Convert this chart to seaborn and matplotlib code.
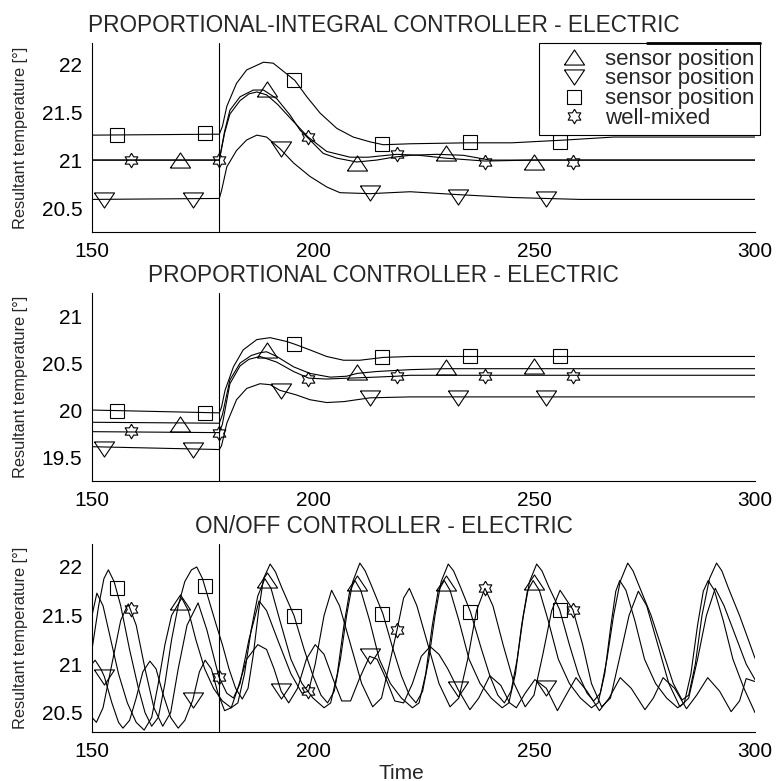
import numpy as np
import matplotlib
matplotlib.use('Agg')
import matplotlib.pyplot as plt
from matplotlib.lines import Line2D
import seaborn as sns

# ---------------- data ----------------
STEP_TIME = 178.8
x_ticks = [150, 200, 250, 300]
legend_labels = ['sensor position', 'sensor position', 'sensor position', 'well-mixed']

# marker times (same sampling in every panel)
up_mark_t = [170, 189.5, 210, 230, 250]
down_mark_t = [152.8, 172.8, 192.8, 212.8, 232.8, 252.8]
square_mark_t = [155.6, 175.6, 195.7, 215.7, 235.6, 255.8]
star_mark_t = [158.8, 178.8, 198.9, 218.9, 238.9, 258.8]

# --- PI controller ---
pi_up_t = [150, 178.8, 180.0, 181.2, 183.5, 186.5, 188.8, 191.8, 194.8, 197.1, 199.3, 202.3,
           205.4, 209.9, 214.4, 218.2, 222, 228, 234, 240, 260, 300]
pi_up_v = [21.0, 21.0, 21.3, 21.52, 21.66, 21.73, 21.73, 21.64, 21.47, 21.31, 21.21, 21.07,
           21.02, 20.98, 21.0, 21.03, 21.05, 21.06, 21.05, 21.0, 21.0, 21.0]
pi_star_t = [150, 178.8, 180.0, 181.2, 183.5, 185.5, 187.3, 189.5, 192, 195, 198.9, 203.1,
             208.4, 212.5, 218.9, 224, 230, 238.9, 250, 300]
pi_star_v = [21.0, 21.0, 21.28, 21.48, 21.62, 21.69, 21.71, 21.68, 21.58, 21.43, 21.24, 21.09,
             21.03, 21.03, 21.06, 21.05, 21.02, 20.99, 21.0, 21.0]
pi_square_t = [150, 178.8, 179.5, 180.5, 182.7, 185, 188.8, 191, 194, 195.9, 198.6, 201.6,
               205.4, 209.1, 212.9, 215.9, 222, 235, 245, 257.4, 268, 300]
pi_square_v = [21.26, 21.27, 21.35, 21.56, 21.8, 21.94, 22.02, 22.01, 21.9, 21.83, 21.66, 21.49,
               21.33, 21.24, 21.19, 21.16, 21.17, 21.18, 21.18, 21.21, 21.24, 21.24]
pi_down_t = [150, 178.8, 179.3, 180.5, 182.7, 185, 187.3, 189.5, 192.5, 195.6, 199.3, 203.1,
             206.1, 212.9, 222, 232.8, 245, 260.4, 300]
pi_down_v = [20.59, 20.6, 20.68, 20.93, 21.10, 21.21, 21.26, 21.24, 21.12, 20.97, 20.83, 20.72,
             20.66, 20.65, 20.67, 20.64, 20.61, 20.59, 20.59]
pi_up_mark = [21.0, 21.74, 20.97, 21.07, 20.98]
pi_down_mark = [20.58, 20.58, 21.12, 20.66, 20.61, 20.59]
pi_square_mark = [21.26, 21.28, 21.83, 21.17, 21.19, 21.19]
pi_star_mark = [21.0, 21.0, 21.24, 21.06, 20.98, 20.98]

# --- P controller ---
p_up_t = [150, 178.8, 179.5, 181.2, 183.5, 186, 188, 189.5, 191.8, 195.6, 199.3, 203.9,
          207.6, 210, 214.4, 222, 230, 300]
p_up_v = [19.87, 19.86, 19.95, 20.32, 20.5, 20.58, 20.61, 20.62, 20.57, 20.46, 20.39, 20.35,
          20.36, 20.39, 20.41, 20.43, 20.44, 20.44]
p_star_t = [150, 178.8, 179.5, 181.2, 183.5, 185.5, 188, 191.8, 195.6, 199, 203, 208.4,
            214, 218.9, 222, 300]
p_star_v = [19.77, 19.76, 19.85, 20.28, 20.47, 20.54, 20.57, 20.51, 20.41, 20.34, 20.33, 20.34,
            20.35, 20.36, 20.37, 20.37]
p_square_t = [150, 178.8, 179.3, 180.1, 182, 184.2, 187.3, 190.3, 194, 195.9, 199.3, 203.1,
              206.9, 210.6, 215.9, 222, 300]
p_square_v = [20.0, 19.97, 20.03, 20.21, 20.46, 20.64, 20.75, 20.77, 20.73, 20.70, 20.64, 20.57,
              20.53, 20.53, 20.56, 20.57, 20.57]
p_down_t = [150, 178.8, 179.3, 180.5, 182.7, 185, 188, 190.3, 192.5, 196.3, 199.3, 203.1,
            207, 212.9, 222, 300]
p_down_v = [19.61, 19.58, 19.62, 19.86, 20.11, 20.23, 20.28, 20.27, 20.21, 20.16, 20.11, 20.08,
            20.09, 20.13, 20.14, 20.14]
p_up_mark = [19.85, 20.64, 20.40, 20.46, 20.47]
p_down_mark = [19.59, 19.58, 20.20, 20.13, 20.13, 20.13]
p_square_mark = [19.99, 19.97, 20.70, 20.56, 20.57, 20.57]
p_star_mark = [19.78, 19.76, 20.33, 20.36, 20.36, 20.36]

# --- ON/OFF controller ---
oo_square_t = [150, 151.5, 152.7, 153.7, 155, 156.5, 158.5, 160.5, 162, 163.5, 165, 166.5,
               168, 169.5, 171, 172.5, 173.7, 175, 176.5, 178, 179.5, 181, 182.5, 184,
               185.3, 186.5, 187.7, 188.8, 190.3, 191.5, 193, 195.7, 198, 200, 201.8, 203.3,
               204.8, 206.2, 207.6, 209, 210.6, 211.8, 213.3, 215.8, 218, 220, 221.8, 223.3,
               224.8, 226.2, 227.6, 229, 230.6, 231.8, 233.3, 235.6, 238, 240, 241.8, 243.3,
               244.8, 246.2, 247.6, 249, 250.6, 251.8, 253.3, 255.8, 258, 260, 262, 263.5,
               265, 266.5, 268, 269.5, 271.2, 272.4, 274, 276.5, 279, 281.5, 283.5, 285,
               286.5, 288, 289.7, 291.3, 292.5, 294, 296.5, 298.5, 300]
oo_square_v = [21.15, 21.6, 21.88, 21.97, 21.85, 21.6, 21.15, 20.75, 20.5, 20.36, 20.45, 20.8,
               21.25, 21.6, 21.85, 21.97, 22.0, 21.88, 21.65, 21.42, 21.2, 20.95, 20.75, 20.64,
               20.75, 21.1, 21.55, 21.88, 22.03, 21.95, 21.78, 21.5, 21.15, 20.88, 20.68, 20.6,
               20.72, 21.05, 21.5, 21.85, 22.04, 21.96, 21.8, 21.52, 21.17, 20.88, 20.68, 20.6,
               20.72, 21.05, 21.5, 21.85, 22.03, 21.96, 21.8, 21.54, 21.17, 20.88, 20.68, 20.6,
               20.72, 21.05, 21.5, 21.85, 22.03, 21.96, 21.8, 21.56, 21.2, 20.9, 20.7, 20.62,
               20.7, 21.05, 21.5, 21.85, 22.04, 21.96, 21.78, 21.5, 21.15, 20.8, 20.63, 20.68,
               21.0, 21.5, 21.88, 22.04, 21.96, 21.78, 21.5, 21.25, 21.06]
oo_up_t = [150, 151.1, 152.5, 154, 156, 158, 160, 161.8, 163.5, 165, 166.5, 168, 170.3, 171.8,
           173.5, 175.5, 177.5, 179.5, 181.5, 183, 184.5, 186, 187.5, 189.1, 190.5, 192.5,
           195, 197.5, 200, 202.5, 204, 205.5, 207, 208.3, 209.5, 210.8, 212.8, 215, 217.5,
           220, 222.5, 224, 225.5, 227, 228.3, 229.7, 231, 233, 235.3, 237.8, 240.3, 242.8,
           244.3, 245.8, 247.2, 248.5, 249.8, 251.2, 253.2, 255.5, 258, 260.5, 263, 264.5,
           266, 267.4, 268.5, 269.4, 270.8, 272.8, 275, 277.5, 280, 282.5, 284, 285.5, 287,
           288.3, 289.4, 290.8, 292.8, 295, 297.5, 300]
oo_up_v = [21.5, 21.73, 21.6, 21.3, 20.9, 20.6, 20.4, 20.32, 20.45, 20.8, 21.2, 21.5, 21.68,
           21.55, 21.25, 20.95, 20.75, 20.62, 20.55, 20.6, 20.9, 21.35, 21.7, 21.88, 21.78,
           21.45, 21.05, 20.8, 20.65, 20.55, 20.6, 20.9, 21.4, 21.75, 21.86, 21.76, 21.45,
           21.05, 20.8, 20.65, 20.55, 20.6, 20.9, 21.4, 21.75, 21.86, 21.76, 21.45, 21.05,
           20.8, 20.65, 20.55, 20.6, 20.9, 21.4, 21.75, 21.86, 21.76, 21.45, 21.05, 20.8,
           20.65, 20.55, 20.6, 20.9, 21.4, 21.75, 21.86, 21.76, 21.45, 21.05, 20.8, 20.65,
           20.55, 20.6, 20.9, 21.4, 21.75, 21.86, 21.76, 21.45, 21.05, 20.75, 20.5]
oo_star_t = [150, 151, 152.5, 154.5, 156.5, 158.2, 160, 162, 164, 166, 167.8, 169.5, 171.5,
             174, 176, 178.7, 180.5, 182, 183.5, 185.5, 187.8, 189.5, 192, 195, 197.5, 199,
             200.5, 202.5, 204.2, 206, 208.5, 211, 213.5, 215.5, 217.3, 219, 220.5, 221.8,
             223.5, 226, 228.5, 231, 233, 235, 237, 238.9, 240.7, 243, 245.5, 248, 250, 252,
             254, 255.9, 258.8, 261, 263, 265.3, 267.3, 269.3, 271.5, 273.6, 275.5, 278,
             280.5, 283, 285, 287, 289, 291, 293, 295.5, 298, 300]
oo_star_v = [20.45, 20.4, 20.55, 21.0, 21.45, 21.62, 21.4, 20.95, 20.55, 20.36, 20.5, 20.95,
             21.4, 21.63, 21.35, 20.87, 20.7, 20.65, 20.8, 21.25, 21.65, 21.55, 21.25, 20.9,
             20.7, 20.72, 21.0, 21.5, 21.76, 21.6, 21.2, 20.8, 20.56, 20.65, 21.0, 21.35,
             21.68, 21.78, 21.6, 21.2, 20.8, 20.56, 20.65, 21.05, 21.55, 21.78, 21.6, 21.2,
             20.8, 20.56, 20.68, 21.1, 21.55, 21.76, 21.56, 21.2, 20.8, 20.56, 20.65, 21.05,
             21.5, 21.75, 21.6, 21.2, 20.8, 20.56, 20.65, 21.05, 21.5, 21.78, 21.6, 21.3,
             21.0, 20.84]
oo_down_t = [150, 150.7, 152, 152.8, 154.5, 156, 157, 158.5, 160, 161.5, 163.1, 164.5, 166,
             167.8, 169.5, 171, 172.8, 174.3, 175.6, 177, 178.5, 180, 181.5, 183, 185, 187.5,
             189.5, 191.2, 192.8, 194.5, 196.5, 198.5, 200.5, 202.5, 204.5, 206.5, 208.5,
             210.5, 212.8, 214.5, 216.5, 218.5, 220.5, 222.5, 224.5, 226.5, 228.5, 230.5,
             232.8, 235.5, 237.5, 240, 242.5, 244.5, 246, 248, 250.2, 252.8, 255.3, 257.5,
             259.5, 262, 264.8, 267, 269.5, 272, 275.1, 277, 279.2, 281.8, 284.5, 286.8,
             289.3, 292, 294.6, 296.5, 298, 300]
oo_down_v = [21.0, 21.04, 20.95, 20.87, 20.6, 20.4, 20.34, 20.42, 20.65, 20.92, 21.03, 20.95,
             20.7, 20.45, 20.34, 20.42, 20.63, 20.92, 21.04, 20.95, 20.7, 20.52, 20.55, 20.75,
             21.05, 21.2, 21.15, 20.95, 20.72, 20.6, 20.75, 21.05, 21.2, 21.1, 20.85, 20.62,
             20.62, 20.85, 21.08, 21.05, 20.85, 20.62, 20.6, 20.8, 21.08, 21.18, 21.1, 20.95,
             20.74, 20.53, 20.65, 20.88, 20.78, 20.6, 20.55, 20.7, 20.84, 20.75, 20.52, 20.7,
             20.86, 20.72, 20.52, 20.65, 20.86, 20.75, 20.53, 20.65, 20.86, 20.75, 20.54,
             20.68, 20.86, 20.72, 20.51, 20.62, 20.85, 20.82]
oo_up_mark = [21.64, 21.87, 21.83, 21.83, 21.85]
oo_down_mark = [20.87, 20.63, 20.72, 21.08, 20.74, 20.75]
oo_square_mark = [21.78, 21.80, 21.50, 21.52, 21.54, 21.56]
oo_star_mark = [21.57, 20.87, 20.72, 21.35, 21.78, 21.56]

# ---------------- marker shapes (MATLAB-like) ----------------
UP_TRI = [(-1, -0.75), (1, -0.75), (0, 0.75), (-1, -0.75)]
DOWN_TRI = [(-1, 0.75), (1, 0.75), (0, -0.75), (-1, 0.75)]
ang = np.deg2rad(90 + 30 * np.arange(13))
rad = np.where(np.arange(13) % 2 == 0, 1.0, 1 / np.sqrt(3))
HEXAGRAM = list(zip(rad * np.cos(ang), rad * np.sin(ang)))

MARK_STYLE = {
    'up': dict(marker=UP_TRI, ms=14.5),
    'down': dict(marker=DOWN_TRI, ms=14.5),
    'square': dict(marker='s', ms=10),
    'star': dict(marker=HEXAGRAM, ms=10.5),
}

sns.set_style('white')
plt.rcParams['font.family'] = ['Liberation Sans', 'DejaVu Sans']


def draw_panel(ax, title, lines, marks, ylim, yticks):
    for t, v in lines:
        sns.lineplot(x=t, y=v, ax=ax, color='black', linewidth=0.8, errorbar=None)
    for kind, t, v in marks:
        ax.plot(t, v, linestyle='none', mfc='none', mec='black', mew=0.8, **MARK_STYLE[kind])
    ax.axvline(STEP_TIME, color='black', linewidth=0.8)
    ax.set_xlim(150, 300)
    ax.set_ylim(*ylim)
    ax.set_xticks(x_ticks)
    ax.set_xticklabels([str(x) for x in x_ticks])
    ax.set_yticks(yticks)
    ax.set_yticklabels([f'{y:g}' for y in yticks])
    ax.tick_params(direction='in', length=4, width=0.8, labelsize=15, pad=7, colors='black')
    for side in ['top', 'right']:
        ax.spines[side].set_visible(False)
    for side in ['left', 'bottom']:
        ax.spines[side].set_color('black')
        ax.spines[side].set_linewidth(0.8)
    ax.set_title(title, fontsize=16.3, x=0.44, pad=8)
    ax.set_ylabel('Resultant temperature [°]', fontsize=11.8)
    ax.yaxis.set_label_coords(-0.097, 0.5)
    ax.set_xlabel('')


fig = plt.figure(figsize=(7.77, 7.81), dpi=100)
ax_pi = fig.add_axes([0.1184, 0.7029, 0.8533, 0.2420])
ax_p = fig.add_axes([0.1184, 0.3841, 0.8533, 0.2407])
ax_oo = fig.add_axes([0.1184, 0.0627, 0.8533, 0.2407])

draw_panel(ax_pi, 'PROPORTIONAL-INTEGRAL CONTROLLER - ELECTRIC',
           [(pi_up_t, pi_up_v), (pi_down_t, pi_down_v), (pi_square_t, pi_square_v), (pi_star_t, pi_star_v)],
           [('up', up_mark_t, pi_up_mark), ('down', down_mark_t, pi_down_mark),
            ('square', square_mark_t, pi_square_mark), ('star', star_mark_t, pi_star_mark)],
           (20.25, 22.22), [20.5, 21, 21.5, 22])
draw_panel(ax_p, 'PROPORTIONAL CONTROLLER - ELECTRIC',
           [(p_up_t, p_up_v), (p_down_t, p_down_v), (p_square_t, p_square_v), (p_star_t, p_star_v)],
           [('up', up_mark_t, p_up_mark), ('down', down_mark_t, p_down_mark),
            ('square', square_mark_t, p_square_mark), ('star', star_mark_t, p_star_mark)],
           (19.245, 21.245), [19.5, 20, 20.5, 21])
draw_panel(ax_oo, 'ON/OFF CONTROLLER - ELECTRIC',
           [(oo_up_t, oo_up_v), (oo_down_t, oo_down_v), (oo_square_t, oo_square_v), (oo_star_t, oo_star_v)],
           [('up', up_mark_t, oo_up_mark), ('down', down_mark_t, oo_down_mark),
            ('square', square_mark_t, oo_square_mark), ('star', star_mark_t, oo_star_mark)],
           (20.30, 22.236), [20.5, 21, 21.5, 22])
ax_oo.set_xlabel('Time', fontsize=15, x=0.466, labelpad=2)

# legend: markers only, square frame
handles = [Line2D([], [], linestyle='none', mfc='none', mec='black', mew=0.8, **MARK_STYLE[k])
           for k in ['up', 'down', 'square', 'star']]
leg = ax_pi.legend(handles, legend_labels, loc='upper right', bbox_to_anchor=(1.0075, 1.0),
                   fontsize=16, frameon=True, fancybox=False, framealpha=1, edgecolor='black',
                   labelspacing=-0.05, handlelength=2.6, handletextpad=0.1, borderpad=0.25,
                   borderaxespad=0)
leg.get_frame().set_linewidth(0.8)
# heavier segment on the right part of the legend's top edge, as in the original render
ax_pi.plot([0.837, 1.0075], [1.0, 1.0], transform=ax_pi.transAxes, color='black',
           linewidth=2, clip_on=False, zorder=10)

fig.savefig('out.png', dpi=100)
